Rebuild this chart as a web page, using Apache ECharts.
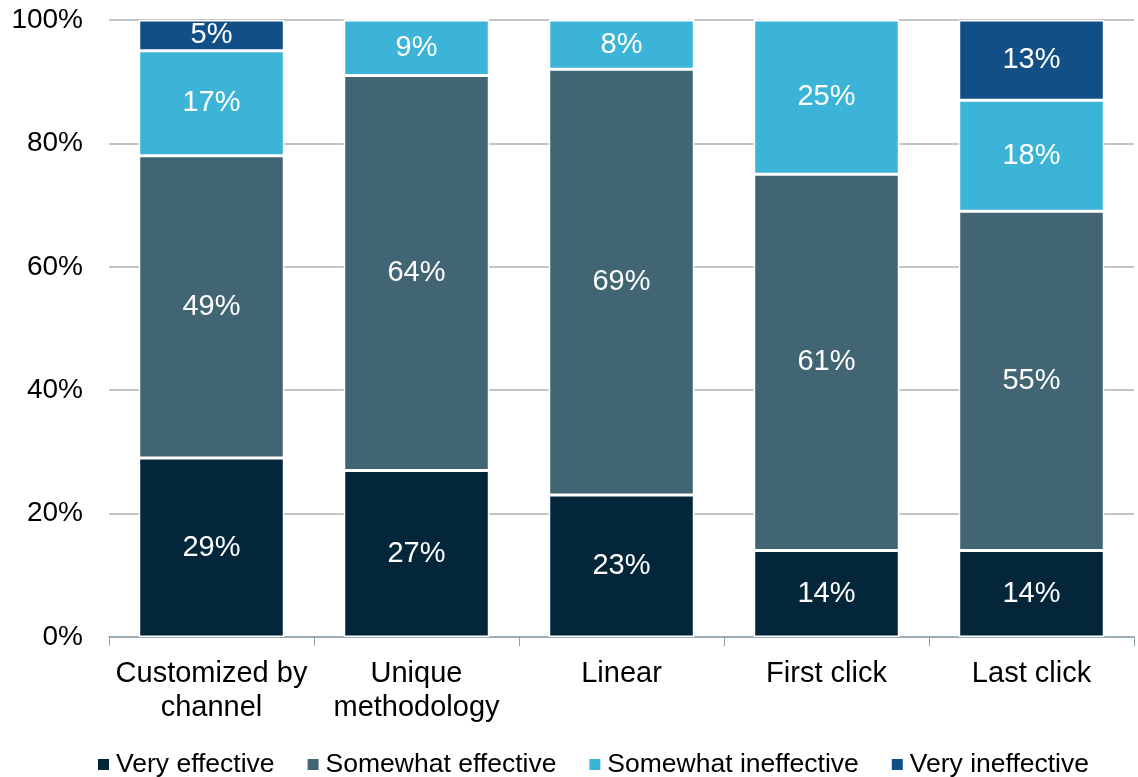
<!DOCTYPE html>
<html><head><meta charset="utf-8">
<script src="https://cdn.jsdelivr.net/npm/echarts@6/dist/echarts.min.js"></script>
<style>html,body{margin:0;padding:0;background:#fff}#c{width:1138px;height:777px}</style>
</head><body><div id="c"></div>
<script>
const categories = ['Customized by\nchannel', 'Unique\nmethodology', 'Linear', 'First click', 'Last click'];
const seriesNames = ['Very effective', 'Somewhat effective', 'Somewhat ineffective', 'Very ineffective'];
const veryEffective = [29, 27, 23, 14, 14];
const somewhatEffective = [49, 64, 69, 61, 55];
const somewhatIneffective = [17, 9, 8, 25, 18];
const veryIneffective = [5, 0, 0, 0, 13];
const yTicks = [0, 20, 40, 60, 80, 100];
const colors = ['#03263a', '#426574', '#3cb4d8', '#124f87'];

const values = [veryEffective, somewhatEffective, somewhatIneffective, veryIneffective];
const font = 'Liberation Sans, Arial, sans-serif';
const chart = echarts.init(document.getElementById('c'));
chart.setOption({
  animation: false,
  color: colors,
  grid: { left: 109, right: 4, top: 20, bottom: 140, containLabel: false },
  legend: {
    top: 746, left: 91, itemWidth: 13, itemHeight: 13, itemGap: 31,
    icon: 'rect',
    textStyle: { fontFamily: font, fontSize: 26.5, color: '#000', padding: [0, 0, 0, 1] },
    data: seriesNames
  },
  xAxis: {
    type: 'category', data: categories,
    axisLine: { lineStyle: { color: '#8ea3b0', width: 1.5 } },
    axisTick: { show: true, length: 9, lineStyle: { color: '#8ea3b0' } },
    axisLabel: { fontFamily: font, fontSize: 29, color: '#000', margin: 20, lineHeight: 34, interval: 0 }
  },
  yAxis: {
    type: 'value', min: 0, max: 100, interval: 20,
    axisLabel: { fontFamily: font, fontSize: 28, color: '#000', margin: 26,
      formatter: v => yTicks.includes(v) ? v + '%' : '' },
    splitLine: { lineStyle: { color: '#c4c4c4', width: 2 } },
    axisLine: { show: false }, axisTick: { show: false }
  },
  series: seriesNames.map((n, i) => ({
    name: n, type: 'bar', stack: 'all', barWidth: '71%',
    data: values[i],
    itemStyle: { color: colors[i], borderColor: '#fff', borderWidth: 1.5 },
    label: { show: true, position: 'inside', color: '#fff', fontFamily: font, fontSize: 29,
      formatter: p => p.value > 0 ? p.value + '%' : '' }
  }))
});
</script></body></html>
